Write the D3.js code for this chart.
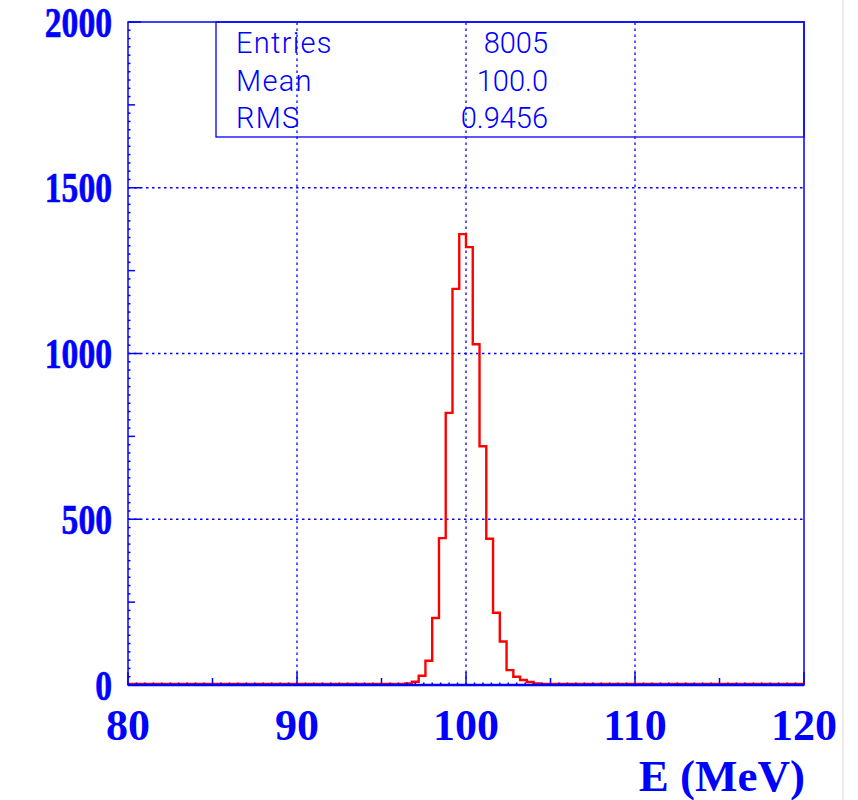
<!DOCTYPE html>
<html>
<head>
<meta charset="utf-8">
<script src="https://cdn.jsdelivr.net/npm/d3@7/dist/d3.min.js"></script>
<style>
  body { margin: 0; background: #fff; }
  svg { display: block; }
</style>
</head>
<body>
<svg id="chart" width="858" height="800"></svg>
<script>
// histogram data (0.4 MeV bins, only non-empty ones listed)
var xDomain = [80, 120];
var yDomain = [0, 2000];
var binWidth = 0.4;
var binLow = [96.4, 96.8, 97.2, 97.6, 98.0, 98.4, 98.8, 99.2, 99.6, 100.0,
              100.4, 100.8, 101.2, 101.6, 102.0, 102.4, 102.8, 103.2, 103.6, 104.0];
var counts = [2, 7, 25, 70, 199, 440, 818, 1192, 1357, 1318,
              1025, 717, 438, 215, 128, 42, 22, 12, 6, 2];
var xTicks = [80, 90, 100, 110, 120];
var yTicks = [0, 500, 1000, 1500, 2000];
var statNames = ["Entries", "Mean", "RMS"];
var statValues = ["8005", "100.0", "0.9456"];
var xTitle = "E (MeV)";

var blue = "#0000ff", red = "#ff0000";
var svg = d3.select("#chart");

// plot frame (px)
var pL = 128, pR = 804, pT = 22, pB = 685;
var x = d3.scaleLinear().domain(xDomain).range([pL, pR]);
var y = d3.scaleLinear().domain(yDomain).range([pB, pT]);

// ==================== Grid ====================
var grid = svg.append("g").attr("stroke", blue).attr("stroke-width", 1.3)
    .attr("stroke-dasharray", "2.5,3.5");
grid.selectAll(".gx").data(xTicks.slice(1, -1)).enter().append("line")
    .attr("x1", function(d) { return x(d); }).attr("x2", function(d) { return x(d); })
    .attr("y1", pB).attr("y2", pT);
grid.selectAll(".gy").data(yTicks.slice(1, -1)).enter().append("line")
    .attr("x1", pL).attr("x2", pR)
    .attr("y1", function(d) { return y(d); }).attr("y2", function(d) { return y(d); });

// ==================== Histogram ====================
var stepPts = [[xDomain[0], 0], [binLow[0], 0]];
binLow.forEach(function(b, i) {
  stepPts.push([b, counts[i]]);
  stepPts.push([b + binWidth, counts[i]]);
});
stepPts.push([binLow[binLow.length - 1] + binWidth, 0]);
stepPts.push([xDomain[1], 0]);

svg.append("path")
    .attr("d", d3.line().x(function(d) { return x(d[0]); }).y(function(d) { return y(d[1]) - 1; })(stepPts))
    .attr("fill", "none")
    .attr("stroke", red)
    .attr("stroke-width", 2.4);

// ==================== Ticks ====================
var ticks = svg.append("g").attr("stroke", blue).attr("stroke-width", 1.5);
var xMinor = d3.range(xDomain[0], xDomain[1] + 0.01, 0.5);
ticks.selectAll(".tx").data(xMinor).enter().append("line")
    .attr("x1", function(d) { return x(d); }).attr("x2", function(d) { return x(d); })
    .attr("y1", pB)
    .attr("y2", function(d) {
      var len = (d % 10 === 0) ? 13 : (d % 5 === 0 ? 7 : 2.5);
      return pB - len;
    });
var yMinor = d3.range(yDomain[0], yDomain[1] + 1, 25);
ticks.selectAll(".ty").data(yMinor).enter().append("line")
    .attr("y1", function(d) { return y(d); }).attr("y2", function(d) { return y(d); })
    .attr("x1", pL)
    .attr("x2", function(d) {
      var len = (d % 500 === 0) ? 13 : (d % 250 === 0 ? 7 : 2.5);
      return pL + len;
    });

// frame
svg.append("rect")
    .attr("x", pL).attr("y", pT)
    .attr("width", pR - pL).attr("height", pB - pT)
    .attr("fill", "none").attr("stroke", blue).attr("stroke-width", 1.5);
svg.append("line").attr("x1", pL).attr("x2", pR).attr("y1", pB).attr("y2", pB)
    .attr("stroke", blue).attr("stroke-width", 2.5);

// ==================== Tick labels ====================
svg.selectAll(".ylab").data(yTicks).enter().append("text")
    .attr("transform", function(d) { return "translate(112," + (y(d) + 14.5) + ") scale(0.8,1)"; })
    .attr("text-anchor", "end")
    .attr("font-family", "'Liberation Serif', 'Times New Roman', serif")
    .attr("font-weight", "bold")
    .attr("font-size", 42)
    .attr("stroke", blue).attr("stroke-width", 0.6)
    .attr("fill", blue)
    .text(function(d) { return d; });

svg.selectAll(".xlab").data(xTicks).enter().append("text")
    .attr("x", function(d) { return x(d); })
    .attr("y", 740)
    .attr("text-anchor", "middle")
    .attr("font-family", "'Liberation Serif', 'Times New Roman', serif")
    .attr("font-weight", "bold")
    .attr("font-size", 44)
    .attr("fill", blue)
    .text(function(d) { return d; });

svg.append("text")
    .attr("x", 805).attr("y", 791)
    .attr("text-anchor", "end")
    .attr("font-family", "'Liberation Serif', 'Times New Roman', serif")
    .attr("font-weight", "bold")
    .attr("font-size", 45)
    .attr("fill", blue)
    .text(xTitle);

// ==================== Stats box ====================
var box = svg.append("g");
box.append("rect")
    .attr("x", 216).attr("y", pT)
    .attr("width", pR - 216).attr("height", 137 - pT)
    .attr("fill", "none").attr("stroke", blue).attr("stroke-width", 1.3);
box.selectAll(".sn").data(statNames).enter().append("text")
    .attr("x", 236)
    .attr("y", function(d, i) { return 53 + i * 37.5; })
    .attr("font-family", "Roboto, 'Liberation Sans', sans-serif")
    .attr("font-weight", 300)
    .attr("font-size", 29)
    .attr("letter-spacing", 1.3)
    .attr("fill", blue)
    .text(function(d) { return d; });
box.selectAll(".sv").data(statValues).enter().append("text")
    .attr("x", 548)
    .attr("y", function(d, i) { return 53 + i * 37.5; })
    .attr("text-anchor", "end")
    .attr("font-family", "Roboto, 'Liberation Sans', sans-serif")
    .attr("font-weight", 300)
    .attr("font-size", 29)
    .attr("fill", blue)
    .text(function(d) { return d; });

// window edge line seen at the right of the picture
svg.append("line").attr("x1", 843).attr("x2", 843).attr("y1", 0).attr("y2", 800)
    .attr("stroke", "#d8d8d8").attr("stroke-width", 1);
</script>
</body>
</html>
